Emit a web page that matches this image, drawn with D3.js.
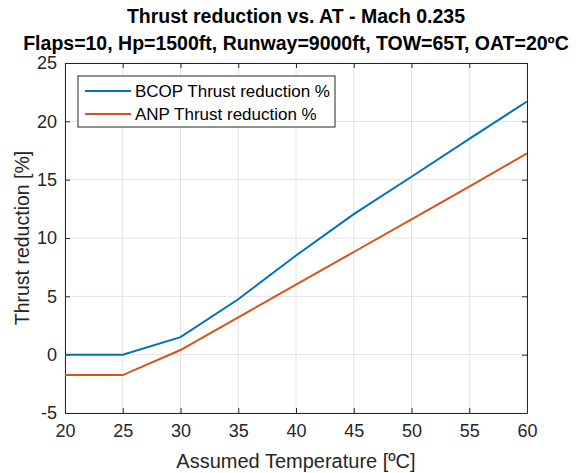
<!DOCTYPE html>
<html>
<head>
<meta charset="utf-8">
<script src="https://cdn.jsdelivr.net/npm/d3@7"></script>
<style>
  body { margin: 0; background: #fff; }
  text { font-family: "Liberation Sans", Arial, Helvetica, sans-serif; }
</style>
</head>
<body>
<div id="chart"></div>
<script>
// data
const temps = [20, 25, 30, 35, 40, 45, 50, 55, 60];
const bcop = [0, 0, 1.5, 4.75, 8.5, 12.05, 15.25, 18.5, 21.7];
const anp = [-1.75, -1.75, 0.4, 3.2, 6.0, 8.8, 11.6, 14.4, 17.25];
const xTicks = [20, 25, 30, 35, 40, 45, 50, 55, 60];
const yTicks = [-5, 0, 5, 10, 15, 20, 25];
const seriesNames = ["BCOP Thrust reduction %", "ANP Thrust reduction %"];
const seriesColors = ["#0072BD", "#D95319"];

const width = 581, height = 473;
const margin = { top: 63, right: 54, bottom: 60, left: 65 };

const svg = d3.select("#chart").append("svg")
  .attr("width", width)
  .attr("height", height);

const x = d3.scaleLinear().domain([20, 60]).range([margin.left, width - margin.right]);
const y = d3.scaleLinear().domain([-5, 25]).range([height - margin.bottom, margin.top]);

const axisColor = "#262626";

// grid
svg.append("g")
  .selectAll("line.vg")
  .data(xTicks)
  .join("line")
  .attr("x1", d => x(d)).attr("x2", d => x(d))
  .attr("y1", y(-5)).attr("y2", y(25))
  .attr("stroke", "#e3e3e3").attr("stroke-width", 1);
svg.append("g")
  .selectAll("line.hg")
  .data(yTicks)
  .join("line")
  .attr("x1", x(20)).attr("x2", x(60))
  .attr("y1", d => y(d)).attr("y2", d => y(d))
  .attr("stroke", "#e3e3e3").attr("stroke-width", 1);

// axes with inside ticks
const tickLen = 5;
const fontTick = "18px";
const fmt = d => String(d); // plain hyphen minus like the original

const xAxis = svg.append("g")
  .attr("transform", `translate(0,${y(-5)})`)
  .call(d3.axisBottom(x).tickValues(xTicks).tickFormat(fmt).tickSizeInner(-tickLen).tickSizeOuter(0).tickPadding(11));
const xAxisTop = svg.append("g")
  .attr("transform", `translate(0,${y(25)})`)
  .call(d3.axisTop(x).tickValues(xTicks).tickSizeInner(-tickLen).tickSizeOuter(0).tickFormat(""));
const yAxis = svg.append("g")
  .attr("transform", `translate(${x(20)},0)`)
  .call(d3.axisLeft(y).tickValues(yTicks).tickFormat(fmt).tickSizeInner(-tickLen).tickSizeOuter(0).tickPadding(8));
const yAxisRight = svg.append("g")
  .attr("transform", `translate(${x(60)},0)`)
  .call(d3.axisRight(y).tickValues(yTicks).tickSizeInner(-tickLen).tickSizeOuter(0).tickFormat(""));

[xAxis, xAxisTop, yAxis, yAxisRight].forEach(g => {
  g.selectAll("path").attr("stroke", axisColor).attr("stroke-width", 1);
  g.selectAll("line").attr("stroke", axisColor).attr("stroke-width", 1);
  g.selectAll("text")
    .attr("fill", axisColor)
    .style("font-size", fontTick)
    .style("font-family", '"Liberation Sans", Arial, sans-serif');
});

// lines
const line = d3.line().x((d, i) => x(temps[i])).y(d => y(d));
[bcop, anp].forEach((s, i) => {
  svg.append("path")
    .datum(s)
    .attr("fill", "none")
    .attr("stroke", seriesColors[i])
    .attr("stroke-width", 2)
    .attr("d", line);
});

// legend
const lg = svg.append("g").attr("transform", "translate(78,76)");
lg.append("rect")
  .attr("width", 257).attr("height", 51)
  .attr("fill", "#fff").attr("stroke", axisColor).attr("stroke-width", 1);
seriesNames.forEach((name, i) => {
  const yy = 15 + i * 23;
  lg.append("line")
    .attr("x1", 7).attr("x2", 53).attr("y1", yy).attr("y2", yy)
    .attr("stroke", seriesColors[i]).attr("stroke-width", 2);
  lg.append("text")
    .attr("x", 57).attr("y", yy)
    .attr("dy", "0.35em")
    .attr("fill", "#000")
    .style("font-size", "17px")
    .text(name);
});

// titles
svg.append("text")
  .attr("x", (x(20) + x(60)) / 2).attr("y", 23)
  .attr("text-anchor", "middle")
  .style("font-size", "19.5px").style("font-weight", "bold")
  .text("Thrust reduction vs. AT - Mach 0.235");
svg.append("text")
  .attr("x", (x(20) + x(60)) / 2).attr("y", 50)
  .attr("text-anchor", "middle")
  .style("font-size", "19.5px").style("font-weight", "bold")
  .text("Flaps=10, Hp=1500ft, Runway=9000ft, TOW=65T, OAT=20ºC");

// axis labels
svg.append("text")
  .attr("x", (x(20) + x(60)) / 2).attr("y", 468)
  .attr("text-anchor", "middle")
  .attr("fill", axisColor)
  .style("font-size", "20px")
  .text("Assumed Temperature [ºC]");
svg.append("text")
  .attr("transform", `translate(29,${(y(-5) + y(25)) / 2}) rotate(-90)`)
  .attr("text-anchor", "middle")
  .attr("fill", axisColor)
  .style("font-size", "19.5px")
  .text("Thrust reduction [%]");
</script>
</body>
</html>
